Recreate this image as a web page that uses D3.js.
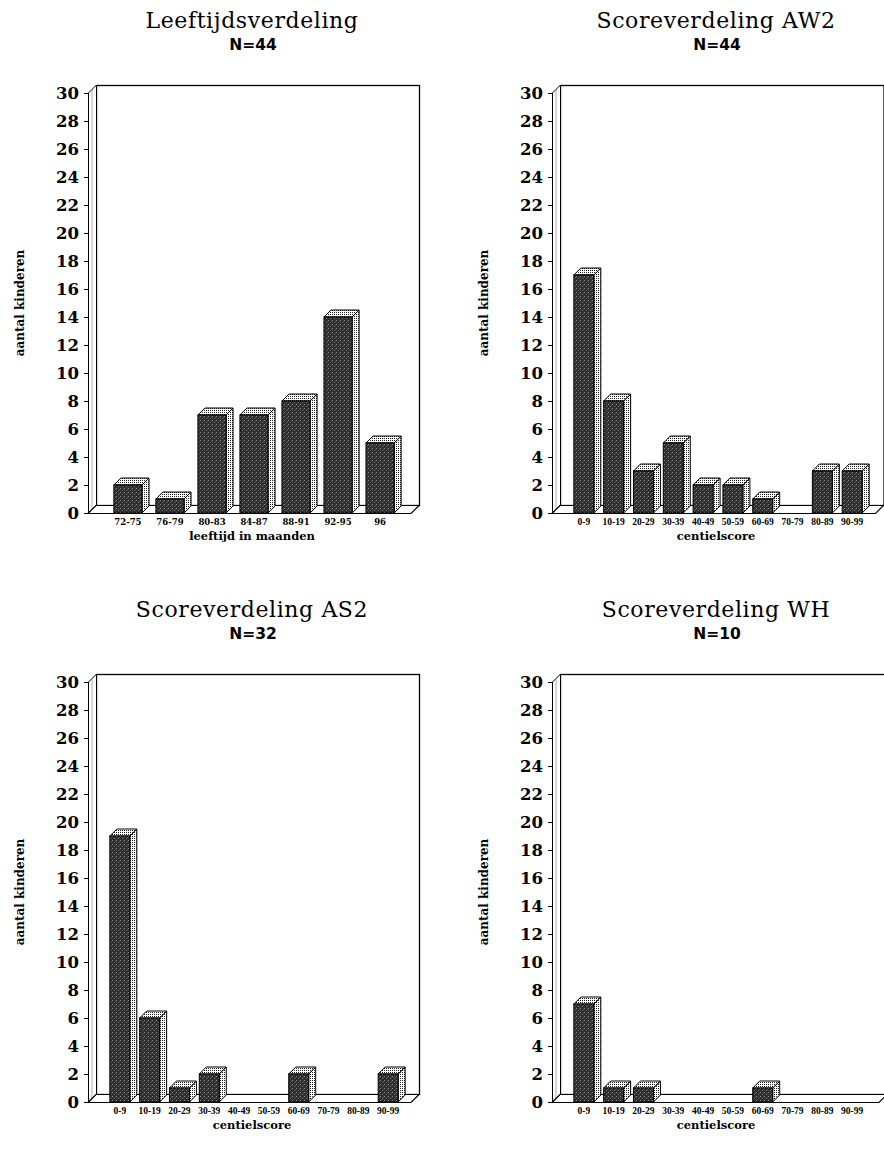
<!DOCTYPE html>
<html>
<head>
<meta charset="utf-8">
<script src="https://cdn.jsdelivr.net/npm/d3@7"></script>
<style>
  body { margin: 0; background: #fff; }
  svg { display: block; }
</style>
</head>
<body>
<div class="chart-container"></div>
<script>
// data
const ageCategories = ['72-75', '76-79', '80-83', '84-87', '88-91', '92-95', '96'];
const ageCounts = [2, 1, 7, 7, 8, 14, 5];

const scoreCategories = ['0-9', '10-19', '20-29', '30-39', '40-49', '50-59', '60-69', '70-79', '80-89', '90-99'];
const aw2Counts = [17, 8, 3, 5, 2, 2, 1, 0, 3, 3];
const as2Counts = [19, 6, 1, 2, 0, 0, 2, 0, 0, 2];
const whCounts = [7, 1, 1, 0, 0, 0, 1, 0, 0, 0];

const yTicks = [0, 2, 4, 6, 8, 10, 12, 14, 16, 18, 20, 22, 24, 26, 28, 30];
const titles = ['Leeftijdsverdeling', 'Scoreverdeling AW2', 'Scoreverdeling AS2', 'Scoreverdeling WH'];
const subtitles = ['N=44', 'N=44', 'N=32', 'N=10'];
const xTitles = ['leeftijd in maanden', 'centielscore', 'centielscore', 'centielscore'];
const yTitle = 'aantal kinderen';

const width = 884;
const height = 1156;

const svg = d3.select('.chart-container').append('svg')
    .attr('width', width)
    .attr('height', height);

// textures for the bar faces
const defs = svg.append('defs');
const front = defs.append('pattern')
    .attr('id', 'frontTex').attr('width', 4).attr('height', 4)
    .attr('patternUnits', 'userSpaceOnUse');
front.append('rect').attr('width', 4).attr('height', 4).attr('fill', '#2f2f2f');
front.append('rect').attr('x', 0).attr('y', 0).attr('width', 1).attr('height', 1).attr('fill', '#8a8a8a');
front.append('rect').attr('x', 2).attr('y', 2).attr('width', 1).attr('height', 1).attr('fill', '#6a6a6a');
front.append('rect').attr('x', 3).attr('y', 1).attr('width', 1).attr('height', 1).attr('fill', '#555');

const dots = defs.append('pattern')
    .attr('id', 'dotTex').attr('width', 2).attr('height', 2)
    .attr('patternUnits', 'userSpaceOnUse');
dots.append('rect').attr('width', 2).attr('height', 2).attr('fill', '#fff');
dots.append('rect').attr('x', 0).attr('y', 0).attr('width', 1).attr('height', 1).attr('fill', '#222');

const charts = [
    { cats: ageCategories, values: ageCounts, axisX: 88, top: 0, wallRight: 419, labFont: 'DejaVu Serif', labSize: 8.5 },
    { cats: scoreCategories, values: aw2Counts, axisX: 552, top: 0, wallRight: 883.5, labFont: 'Liberation Serif', labSize: 9.5 },
    { cats: scoreCategories, values: as2Counts, axisX: 88, top: 589, wallRight: 419, labFont: 'Liberation Serif', labSize: 9.5 },
    { cats: scoreCategories, values: whCounts, axisX: 552, top: 589, wallRight: 887, labFont: 'Liberation Serif', labSize: 9.5 }
];

const depth = 8;     // wall depth
const barDepth = 7;  // bar depth

charts.forEach((c, i) => {
    const g = svg.append('g');
    const y = d3.scaleLinear()
        .domain([0, 30])
        .range([c.top + 513, c.top + 93]);
    const x = d3.scaleBand()
        .domain(c.cats)
        .range([c.axisX + 12, c.axisX + 320])
        .padding(0.33);

    const y0 = y(0);
    const y30 = y(30);
    const left = c.axisX;
    const frontRight = c.wallRight - depth;

    // back wall
    g.append('rect')
        .attr('x', left + depth + 0.5)
        .attr('y', y30 - depth + 0.5)
        .attr('width', c.wallRight - left - depth)
        .attr('height', y0 - y30)
        .attr('fill', '#fff')
        .attr('stroke', '#000')
        .attr('stroke-width', 1.3);

    // left wall
    g.append('path')
        .attr('d', `M${left + 0.5},${y0} L${left + 0.5},${y30} L${left + depth + 0.5},${y30 - depth} L${left + depth + 0.5},${y0 - depth} Z`)
        .attr('fill', '#fff')
        .attr('stroke', '#000')
        .attr('stroke-width', 1);
    g.append('line')
        .attr('x1', left + 4).attr('x2', left + 4)
        .attr('y1', y30 - 3).attr('y2', y0 - 3)
        .attr('stroke', '#777').attr('stroke-width', 0.6);

    // floor
    g.append('path')
        .attr('d', `M${left},${y0 + 0.5} L${frontRight},${y0 + 0.5} L${c.wallRight},${y0 - depth + 0.5} L${left + depth},${y0 - depth + 0.5} Z`)
        .attr('fill', '#fff')
        .attr('stroke', '#000')
        .attr('stroke-width', 1.2);

    // y axis ticks and labels
    const axis = g.append('g');
    axis.selectAll('line')
        .data(yTicks)
        .enter()
        .append('line')
        .attr('x1', left - 4)
        .attr('x2', left)
        .attr('y1', d => y(d) + 0.5)
        .attr('y2', d => y(d) + 0.5)
        .attr('stroke', '#000');
    axis.selectAll('text')
        .data(yTicks)
        .enter()
        .append('text')
        .attr('x', left - 9)
        .attr('y', d => y(d))
        .attr('dy', '0.36em')
        .attr('text-anchor', 'end')
        .attr('font-family', 'DejaVu Serif')
        .attr('font-weight', 'bold')
        .attr('font-size', 16.5)
        .text(d => d);

    // bars (3D boxes)
    const bars = g.selectAll('g.bar')
        .data(c.cats.map((k, j) => ({ cat: k, value: c.values[j] })).filter(d => d.value > 0))
        .enter()
        .append('g')
        .attr('class', 'bar');
    const bw = x.bandwidth();
    bars.append('path')
        .attr('d', d => {
            const x1 = x(d.cat) + bw;
            const yt = y(d.value);
            return `M${x1},${y0} L${x1},${yt} L${x1 + barDepth},${yt - barDepth} L${x1 + barDepth},${y0 - barDepth} Z`;
        })
        .attr('fill', 'url(#dotTex)')
        .attr('stroke', '#000')
        .attr('stroke-width', 1);
    bars.append('path')
        .attr('d', d => {
            const x0 = x(d.cat);
            const yt = y(d.value);
            return `M${x0},${yt} L${x0 + bw},${yt} L${x0 + bw + barDepth},${yt - barDepth} L${x0 + barDepth},${yt - barDepth} Z`;
        })
        .attr('fill', 'url(#dotTex)')
        .attr('stroke', '#000')
        .attr('stroke-width', 1);
    bars.append('rect')
        .attr('x', d => x(d.cat))
        .attr('y', d => y(d.value))
        .attr('width', bw)
        .attr('height', d => y0 - y(d.value))
        .attr('fill', 'url(#frontTex)')
        .attr('stroke', '#000')
        .attr('stroke-width', 1);

    // x labels
    g.selectAll('text.xlab')
        .data(c.cats)
        .enter()
        .append('text')
        .attr('class', 'xlab')
        .attr('x', d => x(d) + bw / 2)
        .attr('y', y0 + 12)
        .attr('text-anchor', 'middle')
        .attr('font-family', c.labFont)
        .attr('font-weight', 'bold')
        .attr('font-size', c.labSize)
        .text(d => d);

    g.append('text')
        .attr('x', left + 164)
        .attr('y', y0 + 27)
        .attr('text-anchor', 'middle')
        .attr('font-family', 'DejaVu Serif')
        .attr('font-weight', 'bold')
        .attr('font-size', 11.5)
        .text(xTitles[i]);

    g.append('text')
        .attr('transform', `translate(${left - 64},${(y0 + y30) / 2}) rotate(-90)`)
        .attr('text-anchor', 'middle')
        .attr('font-family', 'DejaVu Serif')
        .attr('font-weight', 'bold')
        .attr('font-size', 12)
        .text(yTitle);

    // titles
    g.append('text')
        .attr('x', left + 164)
        .attr('y', c.top + 28)
        .attr('text-anchor', 'middle')
        .attr('font-family', 'DejaVu Serif')
        .attr('font-size', 22)
        .attr('letter-spacing', 0.6)
        .text(titles[i]);
    g.append('text')
        .attr('x', left + 165)
        .attr('y', c.top + 50)
        .attr('text-anchor', 'middle')
        .attr('font-family', 'DejaVu Sans')
        .attr('font-weight', 'bold')
        .attr('font-size', 15.5)
        .text(subtitles[i]);
});
</script>
</body>
</html>
